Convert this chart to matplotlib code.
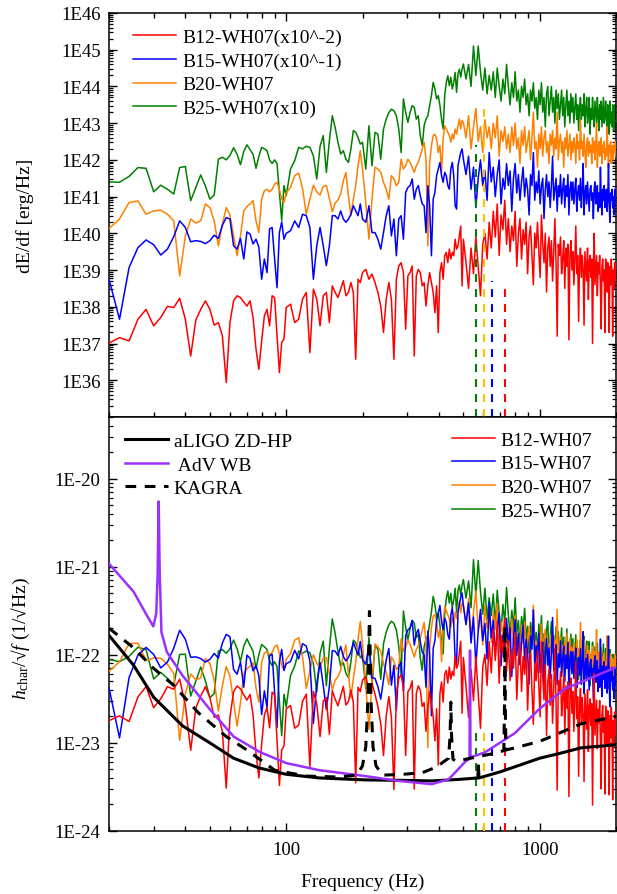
#!/usr/bin/env python3
"""
GW energy spectra (top) and characteristic strain against detector noise (bottom)
"""
import numpy as np
import matplotlib.pyplot as plt
from matplotlib.ticker import FuncFormatter, LogLocator, NullFormatter

# Frequency sampling (Hz), coarser towards high frequencies
freq = np.concatenate([np.arange(20, 101, 2), np.arange(104, 201, 4),
                       np.arange(206, 501, 6), np.arange(512, 2001, 12)])

# log10 dE/df [erg/Hz] as plotted (already multiplied by the legend factor)
b12_log = [
    # 20-100 Hz
    37.01, 37.16, 37.07, 37.66, 37.93, 37.48, 37.71, 38.01, 37.98, 38.23,
    37.66, 36.66, 37.64, 37.93, 38.16, 37.93, 37.50, 37.57, 37.21, 35.94,
    37.57, 38.16, 38.30, 38.25, 38.13, 38.02, 38.16, 37.71, 36.85, 36.30,
    37.07, 37.75, 37.93, 37.48, 38.30, 38.25, 37.21, 36.21, 37.03, 37.12,
    37.98,
    # 104-200 Hz
    38.07, 37.57, 37.66, 38.21, 38.39, 36.75, 38.48, 38.21, 37.48, 38.30,
    38.39, 37.57, 38.57, 38.39, 38.25, 38.48, 38.71, 38.30, 38.39, 38.66,
    38.39, 36.57, 38.75, 38.66, 38.93,
    # 206-500 Hz
    39.02, 38.75, 38.89, 38.66, 38.39, 38.02, 37.30, 38.20, 38.66, 38.20,
    36.57, 38.75, 39.11, 39.20, 38.93, 37.39, 38.84, 38.93, 39.11, 36.66,
    38.84, 39.02, 38.93, 38.57, 38.66, 38.02, 38.57, 38.93, 38.66, 38.39,
    37.84, 38.57, 37.30, 38.93, 39.20, 38.75, 39.39, 39.48, 39.20, 39.57,
    39.30, 39.48, 39.39, 39.84, 39.57, 39.66, 39.93, 40.20, 38.57, 39.84,
    # 512-2000 Hz
    39.2, 38.5, 39.6, 38.9, 39.9, 39.1, 38.3, 39.7, 40.0, 39.3,
    40.3, 39.6, 40.6, 39.9, 40.8, 39.4, 40.5, 40.1, 40.9, 39.7,
    40.4, 39.5, 40.2, 39.8, 40.6, 39.1, 40.0, 40.4, 39.3, 40.1,
    39.7, 40.3, 38.9, 39.9, 40.2, 39.4, 38.6, 40.0, 39.6, 40.3,
    39.5, 38.8, 40.5, 39.7, 39.2, 40.0, 38.4, 39.6, 39.9, 39.1,
    39.8, 38.7, 39.5, 40.4, 39.2, 37.2, 39.7, 39.4, 39.9, 38.9,
    39.3, 39.8, 38.5, 39.6, 39.1, 39.7, 37.1, 39.4, 39.8, 39.0,
    39.5, 38.6, 39.3, 40.2, 38.9, 39.4, 37.6, 39.2, 39.6, 38.8,
    39.4, 39.0, 37.5, 39.5, 39.1, 38.7, 39.6, 38.2, 39.2, 39.4,
    38.8, 39.3, 37.0, 39.1, 40.0, 38.6, 39.0, 39.4, 38.3, 39.2,
    38.9, 39.4, 38.5, 37.4, 39.1, 39.3, 38.7, 39.0, 37.3, 39.3,
    39.0, 38.4, 39.2, 38.8, 37.3, 39.1, 38.6, 39.3, 38.9, 37.2,
    39.0, 38.5, 39.2, 38.7, 39.1,
]

b15_log = [
    38.75, 37.66, 39.07, 39.61, 39.82, 39.69, 39.41, 39.57, 39.91, 40.34,
    40.16, 39.77, 39.80, 39.78, 39.72, 39.80, 39.95, 39.86, 40.22, 40.43,
    40.39, 39.66, 39.57, 39.86, 39.30, 40.04, 39.98, 39.71, 39.84, 39.62,
    38.75, 39.30, 38.93, 40.12, 40.16, 39.30, 38.52, 40.02, 40.31, 39.84,
    40.00,
    40.07, 40.34, 40.16, 40.52, 40.48, 40.16, 38.75, 39.66, 40.16, 39.66,
    39.12, 39.66, 40.48, 40.48, 40.39, 40.61, 40.39, 40.30, 40.39, 40.52,
    40.75, 40.61, 40.48, 40.80, 40.39,
    40.30, 40.75, 40.02, 40.02, 39.84, 39.57, 40.02, 40.48, 40.75, 39.93,
    40.39, 39.39, 40.39, 40.48, 39.84, 41.11, 41.25, 41.30, 41.48, 40.93,
    41.20, 41.30, 41.02, 40.80, 40.75, 40.02, 41.30, 40.75, 39.39, 40.93,
    41.11, 41.57, 41.75, 41.93, 41.57, 41.39, 41.66, 41.57, 41.30, 41.20,
    41.75, 41.93, 41.57, 40.75, 40.66, 41.84, 42.02, 42.20, 42.30, 42.02,
    41.6, 42.1, 41.2, 41.8, 40.7, 41.5, 42.0, 41.3, 41.7, 40.9,
    42.2, 41.4, 41.8, 41.0, 41.6, 42.0, 40.8, 41.5, 41.2, 41.9,
    41.3, 41.7, 40.6, 41.5, 41.9, 41.1, 41.6, 40.9, 41.4, 41.8,
    41.0, 41.5, 41.2, 40.5, 41.6, 41.3, 42.2, 40.9, 41.4, 41.1,
    41.7, 40.8, 41.3, 41.5, 40.4, 41.2, 41.6, 41.0, 41.4, 40.7,
    41.3, 42.1, 40.9, 41.2, 41.5, 40.6, 41.3, 41.0, 41.6, 40.8,
    41.2, 41.5, 40.7, 41.3, 41.0, 41.6, 40.5, 41.2, 41.4, 40.9,
    41.4, 40.8, 41.2, 41.5, 40.6, 41.1, 41.3, 40.9, 41.5, 40.7,
    41.2, 41.9, 40.5, 41.1, 41.3, 40.8, 41.4, 41.0, 40.6, 41.2,
    41.3, 40.9, 41.1, 40.4, 41.2, 41.4, 40.8, 41.0, 41.3, 40.6,
    41.1, 40.7, 41.8, 41.0, 40.5, 41.2, 40.9, 41.3, 40.7, 41.0,
    41.2, 40.6, 41.0, 41.9, 40.8, 40.3, 41.1, 40.9, 41.2, 40.7,
    41.0, 40.5, 41.2, 40.8, 41.1,
]

b20_log = [
    40.13, 40.39, 40.84, 40.88, 40.52, 40.61, 40.63, 40.52, 40.34, 38.84,
    39.92, 40.39, 40.28, 40.34, 40.80, 40.70, 40.34, 39.66, 40.25, 40.70,
    40.50, 39.93, 39.39, 39.93, 40.61, 40.73, 40.80, 40.89, 40.34, 40.02,
    40.93, 41.16, 41.20, 41.13, 41.20, 41.34, 41.39, 41.20, 40.93, 40.84,
    41.10,
    41.25, 41.57, 41.64, 41.22, 40.52, 40.93, 41.31, 41.13, 41.04, 41.28,
    41.30, 40.95, 40.59, 40.82, 40.91, 41.07, 41.43, 41.66, 41.02, 40.48,
    40.93, 41.30, 41.84, 42.25, 41.75,
    40.84, 39.84, 40.93, 41.80, 41.75, 41.66, 41.39, 41.20, 40.93, 41.57,
    41.48, 41.30, 41.39, 42.02, 41.75, 41.84, 42.02, 41.93, 41.80, 41.66,
    41.84, 41.93, 42.11, 42.30, 42.48, 42.02, 39.66, 41.93, 42.39, 42.66,
    42.70, 42.57, 42.20, 42.39, 41.66, 42.57, 42.93, 42.84, 42.75, 42.66,
    42.48, 42.70, 42.57, 42.84, 42.70, 42.93, 43.11, 42.84, 43.07, 43.02,
    42.6, 43.2, 42.3, 42.9, 43.4, 42.5, 42.9, 42.2, 43.1, 42.6,
    42.9, 42.3, 43.0, 42.6, 43.2, 42.1, 42.8, 42.5, 42.9, 42.3,
    42.7, 42.2, 42.9, 42.4, 43.0, 42.3, 42.6, 41.9, 42.8, 42.4,
    42.9, 42.2, 42.5, 42.8, 42.0, 42.6, 43.3, 42.3, 42.5, 41.8,
    42.7, 42.3, 42.9, 42.1, 42.6, 42.8, 42.2, 42.5, 41.9, 42.7,
    42.4, 42.8, 42.1, 42.6, 42.3, 43.3, 42.0, 42.5, 42.7, 42.2,
    42.5, 41.8, 42.6, 42.3, 42.8, 42.1, 42.4, 42.7, 42.0, 42.5,
    42.2, 42.6, 42.4, 41.9, 42.7, 42.3, 42.5, 42.0, 43.1, 42.3,
    42.5, 42.1, 42.7, 42.2, 41.8, 42.4, 42.6, 42.1, 42.5, 42.2,
    42.4, 41.9, 42.6, 42.2, 42.5, 42.0, 42.4, 43.0, 41.8, 42.3,
    42.5, 42.1, 42.3, 42.6, 41.9, 42.4, 42.2, 42.5, 42.0, 42.3,
    42.1, 42.9, 42.3, 41.8, 42.4, 42.2, 42.5, 41.9, 42.3, 42.4,
    42.0, 42.4, 42.2, 42.5, 42.1,
]

b25_log = [
    41.40, 41.39, 41.55, 41.79, 41.77, 41.13, 41.31, 41.20, 41.07, 41.79,
    41.82, 40.89, 41.25, 41.59, 41.29, 40.93, 41.04, 42.02, 42.07, 42.00,
    42.12, 42.33, 42.15, 41.87, 42.23, 42.41, 42.28, 42.15, 41.77, 42.10,
    42.34, 42.30, 42.25, 42.00, 41.90, 42.00, 41.90, 41.11, 40.35, 41.30,
    41.02,
    41.75, 41.98, 42.34, 42.30, 42.37, 42.34, 42.11, 41.48, 42.37, 42.66,
    41.66, 42.52, 43.20, 42.88, 42.48, 42.16, 42.25, 42.02, 41.93, 42.30,
    42.80, 42.75, 42.61, 42.43, 42.48,
    41.75, 42.93, 41.84, 42.75, 42.70, 42.02, 42.84, 43.11, 43.29, 43.38,
    43.34, 43.20, 42.84, 42.20, 43.66, 43.29, 43.02, 43.29, 43.48, 43.43,
    43.11, 43.20, 42.66, 42.39, 42.93, 43.11, 43.20, 43.48, 43.75, 44.11,
    43.93, 43.66, 43.75, 43.48, 43.11, 42.84, 43.75, 44.11, 44.29, 44.02,
    44.25, 43.93, 44.11, 44.38, 43.84, 44.34, 44.47, 44.25, 44.47, 44.61,
    44.2, 44.6, 44.0, 45.1, 44.3, 45.1, 44.4, 43.9, 44.5, 43.8,
    44.3, 43.9, 44.4, 43.7, 44.5, 44.0, 43.6, 44.2, 43.8, 44.6,
    44.0, 43.5, 44.1, 43.7, 44.4, 43.6, 43.9, 43.3, 44.0, 43.7,
    44.2, 43.5, 43.8, 43.2, 43.9, 43.6, 44.1, 43.4, 43.7, 43.1,
    43.9, 43.5, 44.1, 43.3, 43.7, 42.9, 43.8, 44.0, 43.2, 43.6,
    44.0, 43.3, 43.7, 43.0, 43.9, 43.4, 43.8, 43.1, 43.5, 43.9,
    43.2, 43.7, 42.9, 43.5, 43.9, 43.2, 43.6, 43.0, 43.8, 43.3,
    43.7, 43.0, 43.4, 43.8, 43.1, 43.5, 42.8, 43.4, 43.7, 43.1,
    43.5, 43.2, 43.8, 42.9, 43.4, 43.7, 43.0, 43.3, 43.7, 42.7,
    43.4, 43.1, 43.7, 43.2, 42.9, 43.6, 43.3, 43.0, 43.7, 43.2,
    42.8, 43.5, 43.1, 43.6, 42.9, 43.3, 43.7, 43.0, 43.2, 43.6,
    43.1, 42.8, 43.5, 43.2, 42.7, 43.6, 43.0, 43.3, 42.9, 43.5,
    43.2, 42.8, 43.5, 43.1, 43.3,
]

models = ['B12-WH07', 'B15-WH07', 'B20-WH07', 'B25-WH07']
model_logs = [b12_log, b15_log, b20_log, b25_log]
model_scales = [1e-2, 1e-1, 1.0, 10.0]
scale_tags = ['(x10^-2)', '(x10^-1)', '', '(x10)']
model_colors = ['#ff0000', '#0000ff', '#ff8000', '#008000']
marker_colors = ['#ff0000', '#0000ff', '#ffc000', '#008000']

# Peak frequencies (Hz) and the heights the markers reach in each panel
peak_freqs = [729, 648, 605, 561]
peak_top_energy = [10**38.6, 10**38.7, 10**43.45, 10**42.4]
peak_top_strain = [1.3e-23, 1.3e-23, 1.3e-23, 1.3e-23]

# sqrt(2G / (pi^2 c^3)) / D in cgs for the source distance used
STRAIN_NORM = 2.5e-42

# Detector noise curves, 1/sqrt(Hz)
aligo_f = [20, 25, 30, 39, 50, 62, 78, 100, 135, 205, 300, 375, 480, 570,
           573, 576, 700, 850, 1000, 1200, 1460, 2000]
aligo_h = [1.66e-22, 7.6e-23, 3.3e-23, 1.56e-23, 1.0e-23, 6.7e-24, 5.2e-24,
           4.4e-24, 4.0e-24, 3.8e-24, 3.75e-24, 3.7e-24, 3.85e-24, 4.0e-24,
           5.5e-24, 4.0e-24, 4.7e-24, 5.7e-24, 6.7e-24, 7.6e-24, 8.8e-24,
           9.5e-24]

adv_f = [20, 25, 28, 29.9, 30.7, 31.1, 31.4, 31.7, 32.2, 33.8, 39, 50, 62,
         78.5, 100, 135, 205, 278, 375, 437, 508, 529, 530.5, 531.5, 533,
         545, 608, 798, 1000, 1254, 2000]
adv_h = [1.08e-21, 5.2e-22, 2.9e-22, 2.1e-22, 2.9e-22, 8e-22, 5.5e-21,
         8e-22, 1.8e-22, 1.08e-22, 5.8e-23, 2.4e-23, 1.18e-23, 7.9e-24,
         5.9e-24, 4.9e-24, 4.2e-24, 3.7e-24, 3.4e-24, 3.85e-24, 6.1e-24,
         6.6e-24, 1.12e-22, 1.12e-22, 6.8e-24, 7.0e-24, 7.8e-24, 1.29e-23,
         2.45e-23, 4.1e-23, 7.2e-23]

kagra_f = [20, 25, 30, 36, 45, 58, 70, 90, 120, 160, 190, 200, 206, 210,
           213, 216, 220, 226, 240, 290, 345, 390, 437, 443, 446, 449, 455,
           470, 560, 690, 722, 727, 729, 731, 736, 800, 1000, 1460, 2000]
kagra_h = [2.0e-22, 1.2e-22, 7.0e-23, 4.5e-23, 2.2e-23, 1.18e-23, 8.3e-24,
           4.9e-24, 4.2e-24, 4.1e-24, 4.3e-24, 5.5e-24, 9e-24, 3e-23,
           3.1e-22, 3e-23, 9e-24, 5.5e-24, 4.3e-24, 4.4e-24, 4.6e-24,
           5.3e-24, 6.7e-24, 1.2e-23, 2.9e-23, 1.2e-23, 6.5e-24, 6.2e-24,
           6.9e-24, 7.8e-24, 8.2e-24, 3e-23, 2.15e-22, 3e-23, 8.3e-24,
           8.8e-24, 1.04e-23, 1.65e-23, 2.0e-23]


def format_plotting():
    plt.rcParams['font.family'] = 'Liberation Serif'
    plt.rcParams['mathtext.fontset'] = 'custom'
    plt.rcParams['mathtext.rm'] = 'Liberation Serif'
    plt.rcParams['mathtext.it'] = 'Liberation Serif:italic'
    plt.rcParams['font.size'] = 14
    plt.rcParams['xtick.labelsize'] = 13.5
    plt.rcParams['ytick.labelsize'] = 13.5
    plt.rcParams['axes.linewidth'] = 1.1
    plt.rcParams['xtick.direction'] = 'in'
    plt.rcParams['ytick.direction'] = 'in'
    plt.rcParams['xtick.major.size'] = 5.8
    plt.rcParams['ytick.major.size'] = 5.8
    plt.rcParams['xtick.minor.size'] = 3.4
    plt.rcParams['ytick.minor.size'] = 3.2
    plt.rcParams['xtick.major.width'] = 1
    plt.rcParams['ytick.major.width'] = 1
    plt.rcParams['xtick.minor.width'] = 1
    plt.rcParams['ytick.minor.width'] = 0.9
    plt.rcParams['legend.frameon'] = False


def exp_label(value, pos):
    return '1E%d' % int(round(np.log10(value)))


def style_axis(ax, decades):
    ax.set_xscale('log')
    ax.set_yscale('log')
    ax.set_xlim(20, 2000)
    ax.set_yticks([10.0**k for k in decades])
    ax.yaxis.set_minor_locator(LogLocator(base=10, subs=np.arange(2, 10), numticks=100))
    ax.yaxis.set_major_formatter(FuncFormatter(exp_label))
    ax.yaxis.set_minor_formatter(NullFormatter())
    ax.xaxis.set_minor_locator(LogLocator(base=10, subs=np.arange(2, 10), numticks=100))
    ax.xaxis.set_minor_formatter(NullFormatter())
    ax.tick_params(axis='y', which='both', left=True, right=True, pad=6)


def main():
    format_plotting()
    fig = plt.figure(figsize=(6.17, 8.95), dpi=100)
    ax_e = fig.add_axes([0.1767, 0.5330, 0.8217, 0.4514])
    ax_h = fig.add_axes([0.1767, 0.0704, 0.8217, 0.4626])

    f = np.asarray(freq, dtype=float)
    energy = [10.0**np.asarray(v) for v in model_logs]

    # Top: energy spectra, drawn heaviest model first
    lines_e = {}
    for i in [3, 2, 1, 0]:
        ln, = ax_e.plot(f, energy[i], color=model_colors[i], lw=1.1,
                        label=models[i] + scale_tags[i], zorder=2 + (3 - i))
        lines_e[i] = ln
    for fp, top, c in zip(peak_freqs, peak_top_energy, marker_colors):
        ax_e.plot([fp, fp], [1e35, top], color=c, lw=1.5,
                  ls=(0, (3.8, 3.4)), zorder=8)

    style_axis(ax_e, range(36, 47))
    ax_e.set_ylim(1e35, 1e46)
    ax_e.tick_params(axis='x', which='both', top=True, bottom=True, labelbottom=False)
    ax_e.legend([lines_e[i] for i in range(4)], [lines_e[i].get_label() for i in range(4)],
                loc='upper left', bbox_to_anchor=(0.047, 0.962), borderaxespad=0,
                borderpad=0, handlelength=2.2, handletextpad=0.35, labelspacing=0.31,
                fontsize=14)

    # Bottom: characteristic strain over sqrt(f)
    lines_h = {}
    for i in [3, 2, 1, 0]:
        e_true = energy[i] / model_scales[i]
        h = STRAIN_NORM * np.sqrt(e_true / f)
        ln, = ax_h.plot(f, h, color=model_colors[i], lw=1.1, label=models[i],
                        zorder=2 + (3 - i))
        lines_h[i] = ln
    for fp, top, c in zip(peak_freqs, peak_top_strain, marker_colors):
        ax_h.plot([fp, fp], [1e-24, top], color=c, lw=1.5,
                  ls=(0, (3.8, 3.4)), zorder=7)

    l_ligo, = ax_h.plot(aligo_f, aligo_h, color='black', lw=2.2, zorder=9,
                        label='aLIGO ZD-HP')
    l_adv, = ax_h.plot(adv_f, adv_h, color='#9b30ff', lw=1.8, zorder=9,
                       label=' AdV WB')
    l_kagra, = ax_h.plot(kagra_f, kagra_h, color='black', lw=2.2, zorder=9,
                         ls=(0, (3.5, 2.8)), label='KAGRA')

    style_axis(ax_h, range(-24, -19))
    ax_h.set_ylim(1e-24, 5e-20)
    ax_h.tick_params(axis='x', which='both', top=False, bottom=True, pad=7)
    ax_h.xaxis.set_major_formatter(FuncFormatter(lambda v, p: '%d' % round(v)))

    leg_det = ax_h.legend([l_ligo, l_adv, l_kagra],
                          ['aLIGO ZD-HP', ' AdV WB', 'KAGRA'],
                          loc='upper left', bbox_to_anchor=(0.032, 0.963),
                          borderaxespad=0, borderpad=0, handlelength=2.2,
                          handletextpad=0.3, labelspacing=0.31, fontsize=14)
    ax_h.add_artist(leg_det)
    ax_h.legend([lines_h[i] for i in range(4)], models,
                loc='upper left', bbox_to_anchor=(0.677, 0.966),
                borderaxespad=0, borderpad=0, handlelength=2.2,
                handletextpad=0.3, labelspacing=0.31, fontsize=14)

    fig.text(0.0405, 0.7587, 'dE/df [erg/Hz]', rotation=90, ha='center',
             va='center', fontsize=14)
    fig.text(0.034, 0.287, r'$h_{\rm char}$/√$f$ (1/√Hz)', rotation=90,
             ha='center', va='center', fontsize=14)
    fig.text(0.5875, 1 - 882 / 895, 'Frequency (Hz)', ha='center',
             va='center', fontsize=14)

    fig.savefig('out.png', dpi=100)


if __name__ == "__main__":
    main()
